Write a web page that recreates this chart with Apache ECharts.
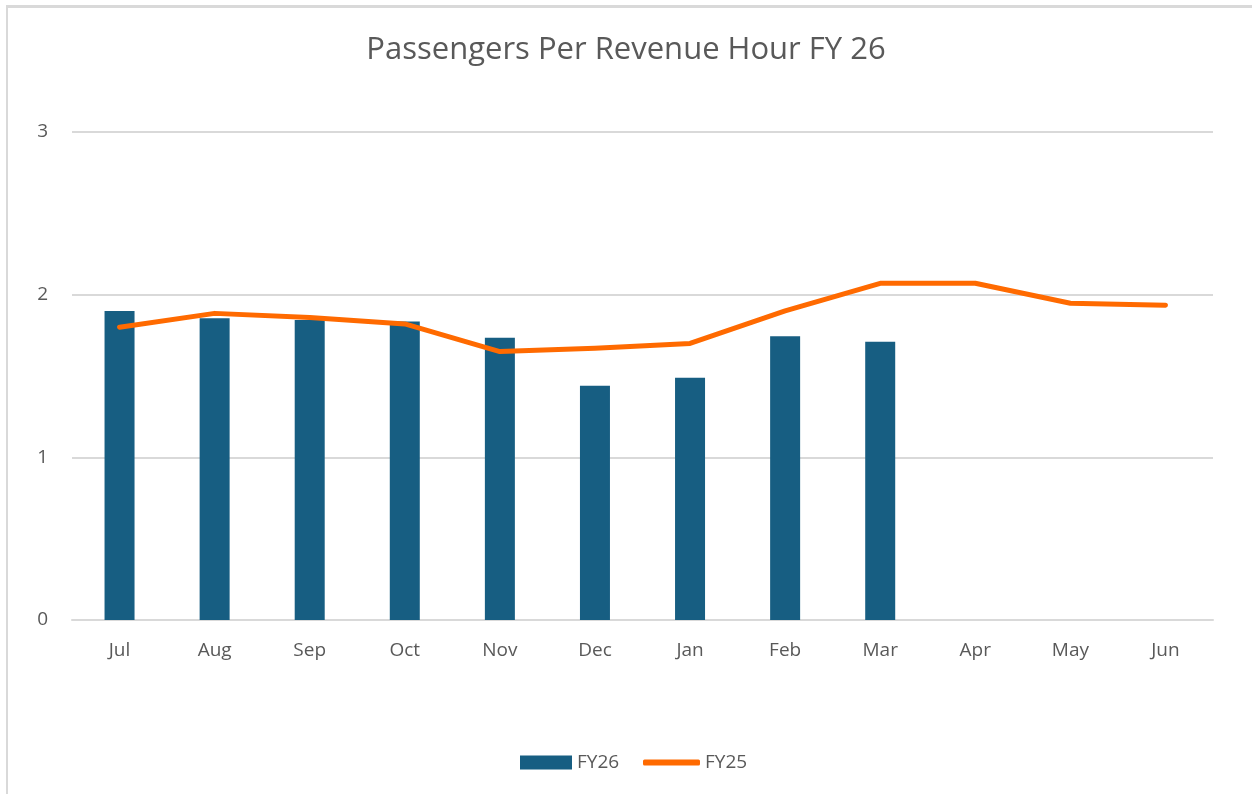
<!DOCTYPE html>
<html>
<head>
<meta charset="utf-8">
<script src="https://cdn.jsdelivr.net/npm/echarts@6/dist/echarts.min.js"></script>
<style>
  html, body { margin: 0; padding: 0; background: #fff; }
  #frame {
    position: absolute; left: 6px; top: 5px; width: 1260px; height: 800px;
    border-left: 2px solid #d9d9d9; border-top: 3px solid #d9d9d9;
  }
  #chart { position: absolute; left: 0; top: 0; width: 1252px; height: 794px; }
</style>
</head>
<body>
<div id="frame"></div>
<div id="chart"></div>
<script>
// months of the fiscal year
const months = ['Jul', 'Aug', 'Sep', 'Oct', 'Nov', 'Dec', 'Jan', 'Feb', 'Mar', 'Apr', 'May', 'Jun'];
// FY26 bars (only through Mar so far)
const fy26 = [1.90, 1.855, 1.845, 1.835, 1.735, 1.44, 1.49, 1.745, 1.71];
// FY25 line
const fy25 = [1.80, 1.885, 1.86, 1.82, 1.65, 1.67, 1.70, 1.90, 2.07, 2.07, 1.947, 1.935];

const chart = echarts.init(document.getElementById('chart'));
const txt = '#595959';
const legendText = { color: txt, fontSize: 19, fontFamily: 'Open Sans' };

chart.setOption({
  animation: false,
  title: {
    text: 'Passengers Per Revenue Hour FY 26',
    left: 'center',
    top: 30,
    textStyle: { color: txt, fontSize: 31, fontWeight: 'normal', fontFamily: 'Open Sans' }
  },
  legend: [
    {
      top: 748,
      left: 515,
      itemWidth: 52,
      itemHeight: 14,
      itemGap: 4,
      textStyle: legendText,
      data: [{ name: 'FY26', icon: 'rect' }]
    },
    {
      top: 748,
      left: 638,
      itemWidth: 57,
      itemHeight: 6,
      textStyle: legendText,
      data: [{ name: 'FY25', icon: 'roundRect' }]
    }
  ],
  grid: { left: 72, right: 39, top: 132, bottom: 174 },
  xAxis: {
    type: 'category',
    data: months,
    axisLine: { lineStyle: { color: '#d9d9d9', width: 2 } },
    axisTick: { show: false },
    axisLabel: { color: txt, fontSize: 19, margin: 21, fontFamily: 'Open Sans' }
  },
  yAxis: {
    type: 'value',
    min: 0,
    max: 3,
    interval: 1,
    axisLine: { show: false },
    axisTick: { show: false },
    axisLabel: { color: txt, fontSize: 19, margin: 24, fontFamily: 'Open Sans' },
    splitLine: { lineStyle: { color: '#d9d9d9', width: 2 } }
  },
  series: [
    {
      name: 'FY26',
      type: 'bar',
      data: fy26,
      barWidth: 30,
      itemStyle: { color: '#175e82' }
    },
    {
      name: 'FY25',
      type: 'line',
      data: fy25,
      symbol: 'none',
      lineStyle: { color: '#ff6a00', width: 5, cap: 'round', join: 'round' },
      itemStyle: { color: '#ff6a00' }
    }
  ]
});
</script>
</body>
</html>
